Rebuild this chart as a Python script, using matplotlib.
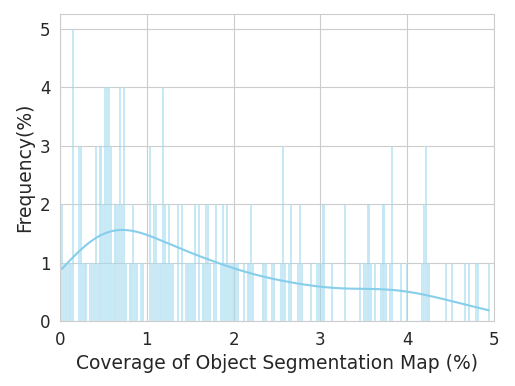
import numpy as np
import matplotlib
matplotlib.use("Agg")
import matplotlib.pyplot as plt
import seaborn as sns

# histogram counts (200 bins between lo and hi)
lo, hi = 0.01, 4.95
counts = [
    2, 1, 1, 1, 1, 5, 0, 0, 3, 3,
    1, 1, 0, 1, 1, 1, 3, 1, 3, 2,
    4, 4, 4, 3, 1, 2, 2, 4, 2, 4,
    1, 0, 1, 2, 1, 1, 0, 1, 1, 0,
    0, 3, 1, 2, 2, 1, 1, 4, 2, 1,
    2, 1, 1, 0, 2, 0, 2, 0, 1, 1,
    1, 1, 2, 0, 2, 0, 1, 2, 2, 1,
    0, 1, 2, 0, 1, 2, 1, 2, 1, 1,
    1, 1, 1, 0, 0, 1, 0, 1, 2, 1,
    0, 0, 0, 0, 1, 1, 0, 0, 1, 1,
    0, 0, 1, 3, 1, 0, 1, 2, 0, 0,
    1, 2, 1, 0, 0, 0, 1, 0, 0, 1,
    1, 1, 2, 0, 0, 0, 1, 0, 0, 0,
    0, 0, 2, 0, 0, 0, 0, 0, 0, 1,
    0, 1, 1, 2, 1, 0, 1, 0, 0, 1,
    2, 1, 0, 1, 3, 0, 0, 0, 1, 0,
    0, 1, 0, 0, 0, 0, 0, 0, 1, 2,
    3, 1, 0, 0, 0, 0, 0, 0, 0, 1,
    0, 0, 1, 0, 0, 0, 0, 0, 1, 0,
    1, 0, 0, 1, 1, 0, 0, 0, 0, 1,
]
nbins = len(counts)
edges = np.linspace(lo, hi, nbins + 1)
centers = (edges[:-1] + edges[1:]) / 2
coverage = np.repeat(centers, counts)

sns.set_style("whitegrid")
fig, ax = plt.subplots(figsize=(5.15, 3.86), dpi=100)
fig.subplots_adjust(left=60/515, right=494/515, top=1-14/386, bottom=1-321/386)

sns.histplot(coverage, bins=nbins, binrange=(lo, hi), kde=True, color="skyblue", ax=ax)

ax.set_xlim(0, 5)
ax.set_xlabel("Coverage of Object Segmentation Map (%)", fontsize=13.5)
ax.set_ylabel("Frequency(%)", fontsize=13.5)
ax.tick_params(labelsize=12)

fig.savefig("out.png", dpi=100)
